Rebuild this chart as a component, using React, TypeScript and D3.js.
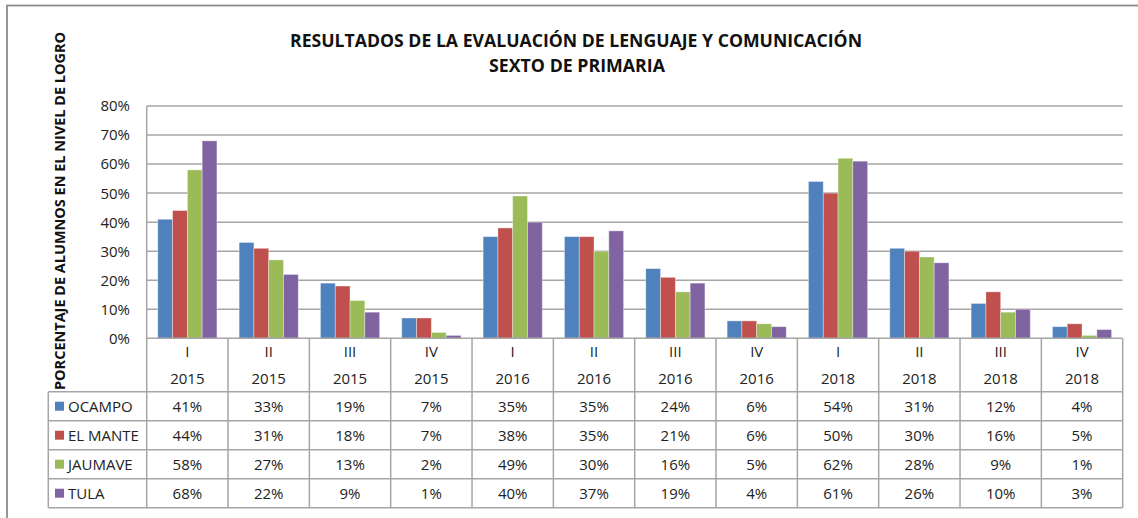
import React from "react";
import * as d3 from "d3";

const levels = ["I", "II", "III", "IV", "I", "II", "III", "IV", "I", "II", "III", "IV"];
const years = ["2015", "2015", "2015", "2015", "2016", "2016", "2016", "2016", "2018", "2018", "2018", "2018"];
const seriesNames = ["OCAMPO", "EL MANTE", "JAUMAVE", "TULA"];
const ocampo = [41, 33, 19, 7, 35, 35, 24, 6, 54, 31, 12, 4];
const elMante = [44, 31, 18, 7, 38, 35, 21, 6, 50, 30, 16, 5];
const jaumave = [58, 27, 13, 2, 49, 30, 16, 5, 62, 28, 9, 1];
const tula = [68, 22, 9, 1, 40, 37, 19, 4, 61, 26, 10, 3];
const yTicks = [0, 10, 20, 30, 40, 50, 60, 70, 80];
const colors = ["#4F81BD", "#C0504D", "#9BBB59", "#8064A2"];
const title1 = "RESULTADOS DE LA EVALUACIÓN DE LENGUAJE Y COMUNICACIÓN";
const title2 = "SEXTO DE PRIMARIA";
const yTitle = "PORCENTAJE DE ALUMNOS EN EL NIVEL DE LOGRO";

const series = [ocampo, elMante, jaumave, tula];

export default function App() {
  const W = 1138, H = 518;
  const left = 146.7, right = 1122.7, top = 106, bottom = 338.3;
  const idx = d3.range(levels.length);
  const x0 = d3.scaleBand<number>().domain(idx).range([left, right]).paddingInner(0).paddingOuter(0);
  const bw = x0.bandwidth();
  const barW = bw / 5.5;
  const x1 = d3.scaleBand<number>().domain(d3.range(series.length)).range([barW * 0.75, bw - barW * 0.75]).padding(0);
  const y = d3.scaleLinear().domain([0, 80]).range([bottom, top]);

  const headerBottom = 391.7;
  const rowH = 29;
  const tableLeft = 48.3;
  const tableBottom = headerBottom + rowH * 4;
  const font = "'Open Sans', sans-serif";
  const txt = "#222";
  const lineC = "#a6a6a6";

  return (
    <div style={{ position: "absolute", left: 0, top: 0 }}>
      <svg width={W} height={H} style={{ display: "block", background: "#fff" }}>
        <rect x={7} y={5.5} width={W} height={H} fill="none" stroke="#8c8c8c" strokeWidth={1.8} />
        <text x={576} y={47} textAnchor="middle" fontFamily={font} fontWeight="bold" fontSize={17} fill="#111" textLength={572} lengthAdjust="spacingAndGlyphs">{title1}</text>
        <text x={577} y={72} textAnchor="middle" fontFamily={font} fontWeight="bold" fontSize={17} fill="#111" textLength={176} lengthAdjust="spacingAndGlyphs">{title2}</text>
        <text transform={`translate(65,211) rotate(-90)`} textAnchor="middle" fontFamily={font} fontWeight="bold" fontSize={14} fill="#111" textLength={358} lengthAdjust="spacingAndGlyphs">{yTitle}</text>

        {yTicks.map((t) => (
          <g key={t}>
            {t > 0 && <line x1={left} x2={right} y1={y(t)} y2={y(t)} stroke={lineC} strokeWidth={1.5} />}
            <text x={130} y={y(t) + 5.4} textAnchor="end" fontFamily={font} fontSize={15} fill={txt}>{t + "%"}</text>
          </g>
        ))}
        <line x1={left} x2={left} y1={top} y2={tableBottom} stroke={lineC} strokeWidth={1.5} />

        {series.map((vals, s) => (
          <g key={s}>
            {vals.map((v, i) => (
              <rect key={i} x={(x0(i) as number) + (x1(s) as number)} y={y(v)} width={x1.bandwidth()} height={bottom - y(v)} fill={colors[s]} stroke="#ffffff" strokeOpacity={0.45} strokeWidth={0.8} />
            ))}
          </g>
        ))}

        <line x1={left} x2={right} y1={bottom} y2={bottom} stroke={lineC} strokeWidth={1.5} />
        {d3.range(5).map((r) => (
          <line key={r} x1={tableLeft} x2={right} y1={headerBottom + r * rowH} y2={headerBottom + r * rowH} stroke={lineC} strokeWidth={1.5} />
        ))}
        <line x1={tableLeft} x2={tableLeft} y1={headerBottom} y2={tableBottom} stroke={lineC} strokeWidth={1.5} />
        {idx.map((i) => (
          <line key={i} x1={(x0(i) as number) + bw} x2={(x0(i) as number) + bw} y1={bottom} y2={tableBottom} stroke={lineC} strokeWidth={1.5} />
        ))}

        {idx.map((i) => {
          const cx = (x0(i) as number) + bw / 2;
          return (
            <g key={i} fontFamily={font} fontSize={15} fill={txt} textAnchor="middle">
              <text x={cx} y={357}>{levels[i]}</text>
              <text x={cx} y={384}>{years[i]}</text>
              {series.map((vals, s) => (
                <text key={s} x={cx} y={headerBottom + rowH * s + rowH / 2 + 5.4}>{vals[i] + "%"}</text>
              ))}
            </g>
          );
        })}

        {seriesNames.map((n, s) => {
          const cy = headerBottom + rowH * s + rowH / 2;
          return (
            <g key={n}>
              <rect x={55} y={cy - 4.5} width={9} height={9} fill={colors[s]} />
              <text x={68} y={cy + 5.4} fontFamily={font} fontSize={15} fill={txt}>{n}</text>
            </g>
          );
        })}
      </svg>
    </div>
  );
}
